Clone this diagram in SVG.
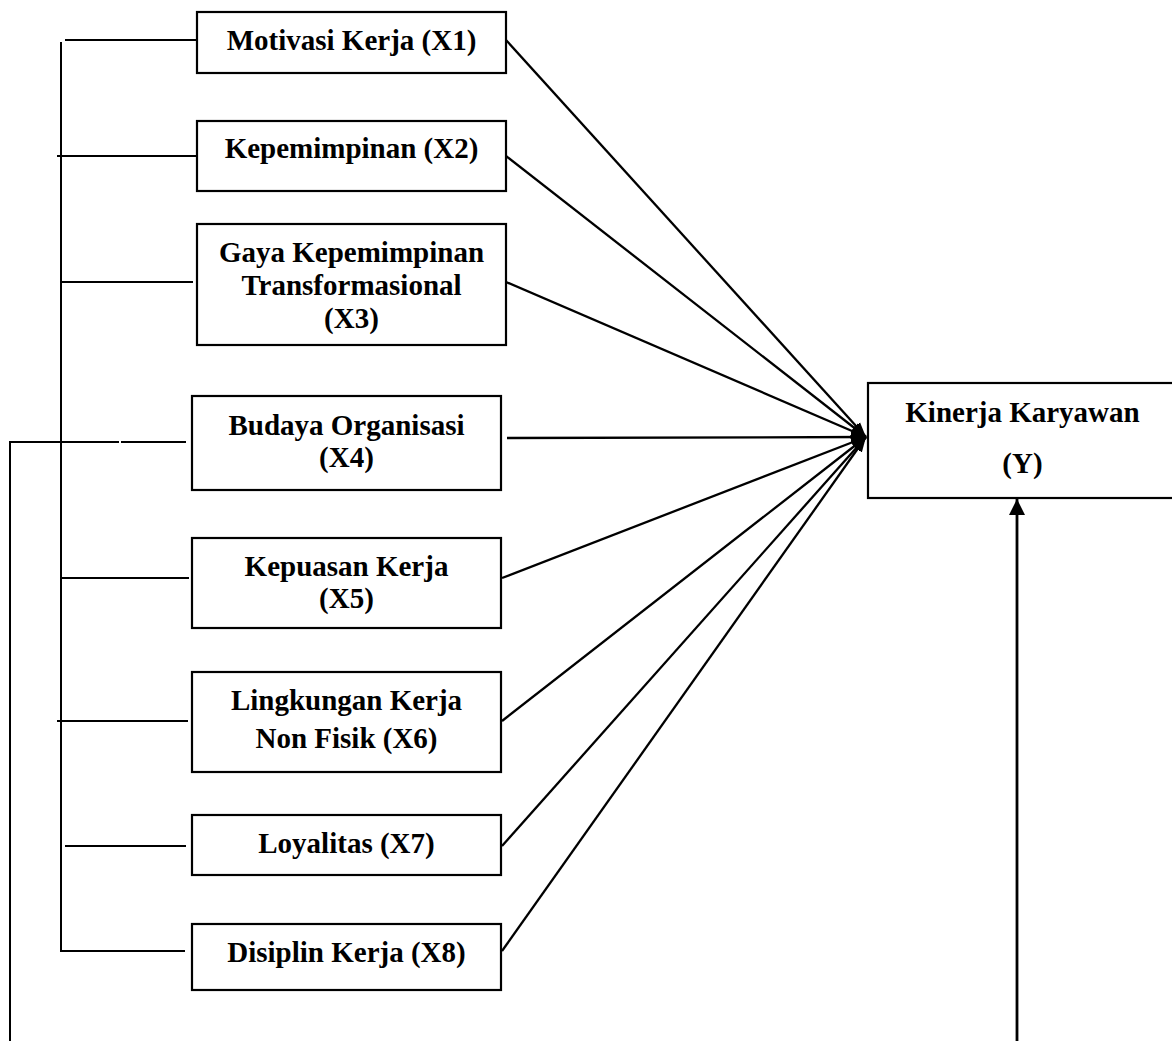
<svg xmlns="http://www.w3.org/2000/svg" width="1172" height="1041" viewBox="0 0 1172 1041">
<style>
.box{fill:#fff;stroke:#000;stroke-width:2.2}
.t{font-family:"Liberation Serif","Times New Roman",serif;font-weight:bold;font-size:29px;fill:#000;text-anchor:middle}
.c{stroke:#000;stroke-width:2;fill:none}
.d{stroke:#000;stroke-width:2.3;fill:none}
</style>
<defs>
<marker id="ah" markerUnits="userSpaceOnUse" markerWidth="16" markerHeight="16" viewBox="0 0 16 16" refX="15" refY="8" orient="auto">
<path d="M0,2.5 L15,8 L0,13.5 Z" fill="#000"/>
</marker>
<marker id="ahb" markerUnits="userSpaceOnUse" markerWidth="18" markerHeight="18" viewBox="0 0 18 18" refX="16" refY="9" orient="auto">
<path d="M0,1 L16,9 L0,17 Z" fill="#000"/>
</marker>
</defs>
<rect width="1172" height="1041" fill="#fff"/>
<g id="connectors">
<line class="c" x1="61" y1="42" x2="61" y2="952"/>
<line class="c" x1="65" y1="40" x2="197" y2="40"/>
<line class="c" x1="57" y1="156" x2="197" y2="156"/>
<line class="c" x1="61" y1="282" x2="193" y2="282"/>
<line class="c" x1="10" y1="442" x2="119" y2="442"/>
<line class="c" x1="121" y1="442" x2="186" y2="442"/>
<line class="c" x1="10" y1="441" x2="10" y2="1041"/>
<line class="c" x1="61" y1="578" x2="189" y2="578"/>
<line class="c" x1="57" y1="721" x2="188" y2="721"/>
<line class="c" x1="65" y1="846" x2="186" y2="846"/>
<line class="c" x1="60" y1="951" x2="185" y2="951"/>
<line class="d" x1="506" y1="40" x2="866" y2="437" marker-end="url(#ah)"/>
<line class="d" x1="506" y1="156" x2="866" y2="437" marker-end="url(#ah)"/>
<line class="d" x1="506" y1="282" x2="866" y2="437" marker-end="url(#ah)"/>
<line class="d" x1="507" y1="438" x2="866" y2="437" marker-end="url(#ah)"/>
<line class="d" x1="502" y1="578" x2="866" y2="437" marker-end="url(#ah)"/>
<line class="d" x1="502" y1="721" x2="866" y2="437" marker-end="url(#ah)"/>
<line class="d" x1="502" y1="846" x2="866" y2="437" marker-end="url(#ah)"/>
<line class="d" x1="502" y1="951" x2="866" y2="437" marker-end="url(#ah)"/>
<line class="d" style="stroke-width:2.8" x1="1017" y1="1041" x2="1017" y2="499" marker-end="url(#ahb)"/>
</g>
<g id="x1">
<rect class="box" x="197" y="12" width="309" height="61"/>
<text class="t" x="351.5" y="50">Motivasi Kerja (X1)</text>
</g>
<g id="x2">
<rect class="box" x="197" y="121" width="309" height="70"/>
<text class="t" x="351.5" y="158">Kepemimpinan (X2)</text>
</g>
<g id="x3">
<rect class="box" x="197" y="224" width="309" height="121"/>
<text class="t" x="351.5" y="262">Gaya Kepemimpinan</text>
<text class="t" x="351.5" y="295">Transformasional</text>
<text class="t" x="351.5" y="328">(X3)</text>
</g>
<g id="x4">
<rect class="box" x="192" y="396" width="309" height="94"/>
<text class="t" x="346.5" y="435">Budaya Organisasi</text>
<text class="t" x="346.5" y="467">(X4)</text>
</g>
<g id="x5">
<rect class="box" x="192" y="538" width="309" height="90"/>
<text class="t" x="346.5" y="576">Kepuasan Kerja</text>
<text class="t" x="346.5" y="608">(X5)</text>
</g>
<g id="x6">
<rect class="box" x="192" y="672" width="309" height="100"/>
<text class="t" x="346.5" y="710">Lingkungan Kerja</text>
<text class="t" x="346.5" y="748">Non Fisik (X6)</text>
</g>
<g id="x7">
<rect class="box" x="192" y="815" width="309" height="60"/>
<text class="t" x="346.5" y="853">Loyalitas (X7)</text>
</g>
<g id="x8">
<rect class="box" x="192" y="924" width="309" height="66"/>
<text class="t" x="346.5" y="962">Disiplin Kerja (X8)</text>
</g>
<g id="y">
<rect class="box" x="868" y="383" width="320" height="115"/>
<text class="t" x="1022.5" y="422">Kinerja Karyawan</text>
<text class="t" x="1022.5" y="473">(Y)</text>
</g>
</svg>
